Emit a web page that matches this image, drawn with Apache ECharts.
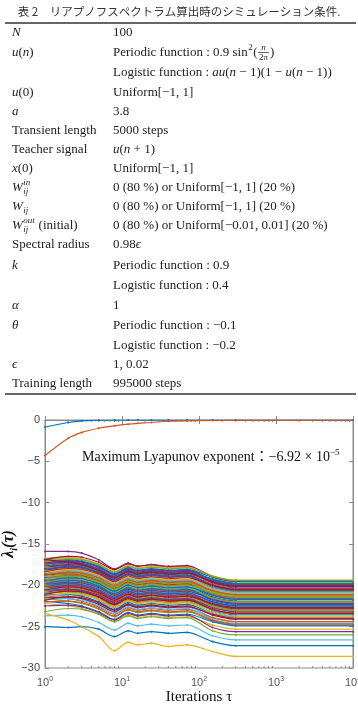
<!DOCTYPE html>
<html>
<head>
<meta charset="utf-8">
<title>リアプノフスペクトラム</title>
<script src="https://cdn.jsdelivr.net/npm/echarts@6/dist/echarts.min.js"></script>
<style>
  html, body { margin: 0; padding: 0; background: #fff; }
  #main { width: 358px; height: 708px; }
</style>
</head>
<body>
<div id="main"></div>
<script>
// little helpers for the math in the table (roman, italic, super/subscript, fraction)
function R(t) { return { t: t }; }
function I(t) { return { t: t, it: true }; }
function SUP(t, it) { return { up: t, it: it }; }
function SUB(t, it) { return { down: t, it: it }; }
function SUPSUB(u, d) { return { up: u, down: d, it: true }; }
function FRAC(n, d) { return { frac: [n, d] }; }

// ---- table: simulation conditions ----
var tableTitle = '表 2　リアプノフスペクトラム算出時のシミュレーション条件.';
var paramNames = [
  [I('N')],
  [I('u'), R('('), I('n'), R(')')],
  [],
  [I('u'), R('(0)')],
  [I('a')],
  [R('Transient length')],
  [R('Teacher signal')],
  [I('x'), R('(0)')],
  [I('W'), SUPSUB('in', 'ij')],
  [I('W'), SUB('ij', true)],
  [I('W'), SUPSUB('out', 'ij'), R(' (initial)')],
  [R('Spectral radius')],
  [I('k')],
  [],
  [I('α')],
  [I('θ')],
  [],
  [I('ϵ')],
  [R('Training length')]
];
var paramValues = [
  [R('100')],
  [R('Periodic function : 0.9 sin'), SUP('2', false), R('('), FRAC('n', '2π'), R(')')],
  [R('Logistic function : '), I('au'), R('('), I('n'), R(' − 1)(1 − '), I('u'), R('('), I('n'), R(' − 1))')],
  [R('Uniform[−1, 1]')],
  [R('3.8')],
  [R('5000 steps')],
  [I('u'), R('('), I('n'), R(' + 1)')],
  [R('Uniform[−1, 1]')],
  [R('0 (80 %) or Uniform[−1, 1] (20 %)')],
  [R('0 (80 %) or Uniform[−1, 1] (20 %)')],
  [R('0 (80 %) or Uniform[−0.01, 0.01] (20 %)')],
  [R('0.98'), I('ϵ')],
  [R('Periodic function : 0.9')],
  [R('Logistic function : 0.4')],
  [R('1')],
  [R('Periodic function : −0.1')],
  [R('Logistic function : −0.2')],
  [R('1, 0.02')],
  [R('995000 steps')]
];

// ---- chart: Lyapunov spectrum lambda_i(tau) ----
var tau = [1, 2, 3, 5, 8, 12, 16, 24, 40, 70, 150, 300, 10000];
var lambda1 = [-0.85, -0.3, -0.1, -0.03, 0, 0, 0, 0, 0, 0, 0, 0, 0];
var lambda2 = [-4.3, -2.2, -1.5, -1.0, -0.7, -0.5, -0.4, -0.3, -0.15, -0.1, -0.05, -0.02, 0];
var spectrum = [
  [-16.7,-16.6,-16.8,-17.5,-18.4,-17.6,-17.9,-17.7,-17.9,-17.8,-18.9,-19.4,-19.4],
  [-15.9,-15.9,-16.1,-16.9,-18.0,-17.3,-17.7,-17.5,-17.8,-17.7,-18.9,-19.5,-19.5],
  [-16.8,-17.1,-17.4,-18.1,-19.0,-18.2,-18.5,-18.3,-18.5,-18.4,-19.2,-19.7,-19.7],
  [-16.8,-16.7,-16.9,-17.6,-18.5,-17.7,-18.0,-17.8,-18.0,-17.9,-19.0,-19.5,-19.5],
  [-16.9,-16.5,-16.6,-17.2,-18.1,-17.4,-17.7,-17.5,-17.7,-17.6,-19.0,-19.5,-19.5],
  [-17.0,-16.9,-17.1,-17.8,-18.7,-17.9,-18.2,-18.0,-18.2,-18.1,-19.0,-19.5,-19.5],
  [-17.0,-17.3,-17.6,-18.3,-19.2,-18.4,-18.7,-18.5,-18.7,-18.6,-19.7,-20.2,-20.2],
  [-17.1,-16.7,-16.8,-17.4,-18.3,-17.6,-17.9,-17.7,-17.9,-17.8,-18.9,-19.4,-19.4],
  [-17.2,-17.1,-17.3,-18.0,-18.9,-18.1,-18.4,-18.2,-18.4,-18.3,-19.6,-20.1,-20.1],
  [-17.2,-16.8,-16.9,-17.5,-18.4,-17.7,-18.0,-17.8,-18.0,-17.9,-18.9,-19.4,-19.4],
  [-17.3,-17.6,-17.9,-18.6,-19.5,-18.7,-19.0,-18.8,-19.0,-18.9,-19.8,-20.3,-20.3],
  [-17.3,-17.2,-17.4,-18.1,-19.0,-18.2,-18.5,-18.3,-18.5,-18.4,-19.5,-20.0,-20.0],
  [-17.4,-17.0,-17.1,-17.7,-18.6,-17.9,-18.2,-18.0,-18.2,-18.1,-19.4,-19.9,-19.9],
  [-17.4,-17.3,-17.5,-18.2,-19.1,-18.3,-18.6,-18.4,-18.6,-18.5,-19.3,-19.8,-19.8],
  [-17.5,-17.8,-18.1,-18.8,-19.7,-18.9,-19.2,-19.0,-19.2,-19.1,-20.2,-20.7,-20.7],
  [-17.5,-17.1,-17.2,-17.8,-18.7,-18.0,-18.3,-18.1,-18.3,-18.2,-19.3,-19.8,-19.8],
  [-17.6,-17.5,-17.7,-18.4,-19.3,-18.5,-18.8,-18.6,-18.8,-18.7,-20.1,-20.6,-20.6],
  [-17.6,-17.9,-18.2,-18.9,-19.8,-19.0,-19.3,-19.1,-19.3,-19.2,-20.1,-20.6,-20.6],
  [-17.7,-17.6,-17.8,-18.5,-19.4,-18.6,-18.9,-18.7,-18.9,-18.8,-19.9,-20.4,-20.4],
  [-17.7,-17.3,-17.4,-18.0,-18.9,-18.2,-18.5,-18.3,-18.5,-18.4,-19.3,-19.8,-19.8],
  [-17.8,-17.7,-17.9,-18.6,-19.5,-18.7,-19.0,-18.8,-19.0,-18.9,-19.9,-20.4,-20.4],
  [-17.8,-18.1,-18.4,-19.1,-20.0,-19.2,-19.5,-19.3,-19.5,-19.4,-20.7,-21.2,-21.2],
  [-17.9,-17.5,-17.6,-18.2,-19.1,-18.4,-18.7,-18.5,-18.7,-18.6,-19.7,-20.2,-20.2],
  [-17.9,-17.8,-18.0,-18.7,-19.6,-18.8,-19.1,-18.9,-19.1,-19.0,-20.2,-20.7,-20.7],
  [-18.0,-17.9,-18.1,-18.8,-19.7,-18.9,-19.2,-19.0,-19.2,-19.1,-20.0,-20.5,-20.5],
  [-18.0,-18.3,-18.6,-19.3,-20.2,-19.4,-19.7,-19.5,-19.7,-19.6,-20.7,-21.2,-21.2],
  [-18.1,-17.7,-17.8,-18.4,-19.3,-18.6,-18.9,-18.7,-18.9,-18.8,-20.1,-20.6,-20.6],
  [-18.1,-18.0,-18.2,-18.9,-19.8,-19.0,-19.3,-19.1,-19.3,-19.2,-20.3,-20.8,-20.8],
  [-18.2,-18.5,-18.8,-19.5,-20.4,-19.6,-19.9,-19.7,-19.9,-19.8,-20.6,-21.1,-21.1],
  [-18.2,-17.8,-17.9,-18.5,-19.4,-18.7,-19.0,-18.8,-19.0,-18.9,-20.0,-20.5,-20.5],
  [-18.3,-18.2,-18.4,-19.1,-20.0,-19.2,-19.5,-19.3,-19.5,-19.4,-20.7,-21.2,-21.2],
  [-18.3,-18.4,-18.3,-19.0,-19.9,-19.1,-19.4,-19.2,-19.4,-19.3,-20.4,-20.9,-20.9],
  [-18.4,-18.0,-18.1,-18.7,-19.6,-18.9,-19.2,-19.0,-19.2,-19.1,-20.0,-20.5,-20.5],
  [-18.4,-18.7,-19.0,-19.7,-20.6,-19.8,-20.1,-19.9,-20.1,-20.0,-21.1,-21.6,-21.6],
  [-18.5,-18.4,-18.6,-19.3,-20.2,-19.4,-19.7,-19.5,-19.7,-19.6,-20.7,-21.2,-21.2],
  [-18.5,-18.1,-18.2,-18.8,-19.7,-19.0,-19.3,-19.1,-19.3,-19.2,-20.4,-20.9,-20.9],
  [-18.6,-18.9,-19.2,-19.9,-20.8,-20.0,-20.3,-20.1,-20.3,-20.2,-21.1,-21.6,-21.6],
  [-18.6,-18.5,-18.7,-19.4,-20.3,-19.5,-19.8,-19.6,-19.8,-19.7,-20.8,-21.3,-21.3],
  [-18.7,-18.3,-18.4,-19.0,-19.9,-19.2,-19.5,-19.3,-19.5,-19.4,-20.4,-20.9,-20.9],
  [-18.7,-18.6,-18.8,-19.5,-20.4,-19.6,-19.9,-19.7,-19.9,-19.8,-21.2,-21.7,-21.7],
  [-18.8,-19.1,-19.4,-20.1,-21.0,-20.2,-20.5,-20.3,-20.5,-20.4,-21.5,-22.0,-22.0],
  [-18.8,-18.4,-18.5,-19.1,-20.0,-19.3,-19.6,-19.4,-19.6,-19.5,-20.6,-21.1,-21.1],
  [-18.9,-18.8,-19.0,-19.7,-20.6,-19.8,-20.1,-19.9,-20.1,-20.0,-20.9,-21.4,-21.4],
  [-18.9,-19.2,-19.5,-20.2,-21.1,-20.3,-20.6,-20.4,-20.6,-20.5,-21.7,-22.2,-22.2],
  [-19.0,-18.6,-18.7,-19.3,-20.2,-19.5,-19.8,-19.6,-19.8,-19.7,-21.0,-21.5,-21.5],
  [-19.0,-18.9,-19.1,-19.8,-20.7,-19.9,-20.2,-20.0,-20.2,-20.1,-21.2,-21.7,-21.7],
  [-19.1,-19.4,-19.7,-20.4,-21.3,-20.5,-20.8,-20.6,-20.8,-20.7,-21.5,-22.0,-22.0],
  [-19.1,-19.0,-19.2,-19.9,-20.8,-20.0,-20.3,-20.1,-20.3,-20.2,-21.2,-21.7,-21.7],
  [-19.2,-18.8,-18.9,-19.5,-20.4,-19.7,-20.0,-19.8,-20.0,-19.9,-21.0,-21.5,-21.5],
  [-19.2,-19.1,-19.3,-20.0,-20.9,-20.1,-20.4,-20.2,-20.4,-20.3,-21.6,-22.1,-22.1],
  [-19.3,-19.6,-19.9,-20.6,-21.5,-20.7,-21.0,-20.8,-21.0,-20.9,-22.0,-22.5,-22.5],
  [-19.3,-18.9,-19.0,-19.6,-20.5,-19.8,-20.1,-19.9,-20.1,-20.0,-20.9,-21.4,-21.4],
  [-19.4,-19.3,-19.5,-20.2,-21.1,-20.3,-20.6,-20.4,-20.6,-20.5,-21.6,-22.1,-22.1],
  [-19.4,-19.7,-20.0,-20.7,-21.6,-20.8,-21.1,-20.9,-21.1,-21.0,-22.0,-22.5,-22.5],
  [-19.5,-19.1,-19.2,-19.8,-20.7,-20.0,-20.3,-20.1,-20.3,-20.2,-21.4,-21.9,-21.9],
  [-19.5,-19.4,-19.6,-20.3,-21.2,-20.4,-20.7,-20.5,-20.7,-20.6,-21.5,-22.0,-22.0],
  [-19.6,-19.5,-19.7,-20.4,-21.3,-20.5,-20.8,-20.6,-20.8,-20.7,-21.8,-22.3,-22.3],
  [-19.6,-19.9,-20.2,-20.9,-21.8,-21.0,-21.3,-21.1,-21.3,-21.2,-22.5,-23.0,-23.0],
  [-19.7,-19.3,-19.4,-20.0,-20.9,-20.2,-20.5,-20.3,-20.5,-20.4,-21.5,-22.0,-22.0],
  [-19.7,-19.6,-19.8,-20.5,-21.4,-20.6,-20.9,-20.7,-20.9,-20.8,-21.8,-22.3,-22.3],
  [-19.8,-20.1,-20.4,-21.1,-22.0,-21.2,-21.5,-21.3,-21.5,-21.4,-22.3,-22.8,-22.8],
  [-19.8,-19.4,-19.5,-20.1,-21.0,-20.3,-20.6,-20.4,-20.6,-20.5,-21.8,-22.3,-22.3],
  [-19.9,-19.8,-20.0,-20.7,-21.6,-20.8,-21.1,-20.9,-21.1,-21.0,-22.1,-22.6,-22.6],
  [-19.9,-20.2,-20.5,-21.2,-22.1,-21.3,-21.6,-21.4,-21.6,-21.5,-22.6,-23.1,-23.1],
  [-20.0,-19.6,-19.7,-20.3,-21.2,-20.5,-20.8,-20.6,-20.8,-20.7,-21.7,-22.2,-22.2],
  [-20.0,-19.9,-20.1,-20.8,-21.7,-20.9,-21.2,-21.0,-21.2,-21.1,-22.3,-22.8,-22.8],
  [-20.1,-20.0,-20.2,-20.9,-21.8,-21.0,-21.3,-21.1,-21.3,-21.2,-22.1,-22.6,-22.6],
  [-20.1,-20.4,-20.7,-21.4,-22.3,-21.5,-21.8,-21.6,-21.8,-21.7,-23.0,-23.5,-23.5],
  [-20.2,-19.8,-19.9,-20.5,-21.4,-20.7,-21.0,-20.8,-21.0,-20.9,-22.0,-22.5,-22.5],
  [-20.2,-20.1,-20.3,-21.0,-21.9,-21.1,-21.4,-21.2,-21.4,-21.3,-22.4,-22.9,-22.9],
  [-20.3,-20.6,-20.9,-21.6,-22.5,-21.7,-22.0,-21.8,-22.0,-21.9,-22.7,-23.2,-23.2],
  [-20.4,-20.0,-20.1,-20.7,-21.6,-20.9,-21.2,-21.0,-21.2,-21.1,-22.3,-22.8,-22.8],
  [-20.4,-20.3,-20.5,-21.2,-22.1,-21.3,-21.6,-21.4,-21.6,-21.5,-22.5,-23.0,-23.0],
  [-20.5,-20.8,-21.1,-21.8,-22.7,-21.9,-22.2,-22.0,-22.2,-22.1,-23.2,-23.7,-23.7],
  [-20.6,-20.2,-20.3,-20.9,-21.8,-21.1,-21.4,-21.2,-21.4,-21.3,-22.2,-22.7,-22.7],
  [-20.6,-20.5,-20.7,-21.4,-22.3,-21.5,-21.8,-21.6,-21.8,-21.7,-23.0,-23.5,-23.5],
  [-20.7,-20.6,-20.8,-21.5,-22.4,-21.6,-21.9,-21.7,-21.9,-21.8,-22.9,-23.4,-23.4],
  [-20.8,-21.1,-21.4,-22.1,-23.0,-22.2,-22.5,-22.3,-22.5,-22.4,-23.3,-23.8,-23.8],
  [-20.9,-20.5,-20.6,-21.2,-22.1,-21.4,-21.7,-21.5,-21.7,-21.6,-22.7,-23.2,-23.2],
  [-20.9,-20.8,-21.0,-21.7,-22.6,-21.8,-22.1,-21.9,-22.1,-22.0,-23.0,-23.5,-23.5],
  [-21.0,-21.3,-21.6,-22.3,-23.2,-22.4,-22.7,-22.5,-22.7,-22.6,-23.9,-24.4,-24.4],
  [-21.1,-20.7,-20.8,-21.4,-22.3,-21.6,-21.9,-21.7,-21.9,-21.8,-22.9,-23.4,-23.4],
  [-21.2,-21.1,-21.3,-22.0,-22.9,-22.1,-22.4,-22.2,-22.4,-22.3,-23.4,-23.9,-23.9],
  [-21.3,-21.6,-21.9,-22.6,-23.5,-22.7,-23.0,-22.8,-23.0,-22.9,-23.9,-24.4,-24.4],
  [-21.4,-21.0,-21.1,-21.7,-22.6,-21.9,-22.2,-22.0,-22.2,-22.1,-23.4,-23.9,-23.9],
  [-21.5,-21.4,-21.6,-22.3,-23.2,-22.4,-22.7,-22.5,-22.7,-22.6,-23.5,-24.0,-24.0],
  [-21.6,-21.9,-22.2,-22.9,-23.8,-23.0,-23.3,-23.1,-23.3,-23.2,-24.3,-24.8,-24.8],
  [-21.7,-21.6,-21.8,-22.5,-23.4,-22.6,-22.9,-22.7,-22.9,-22.8,-24.1,-24.6,-24.6],
  [-21.8,-21.4,-21.5,-22.1,-23.0,-22.3,-22.6,-22.4,-22.6,-22.5,-23.6,-24.1,-24.1],
  [-21.9,-22.2,-22.5,-23.2,-24.1,-23.3,-23.6,-23.4,-23.6,-23.5,-24.4,-24.9,-24.9],
  [-22.0,-21.9,-22.1,-22.8,-23.7,-22.9,-23.2,-23.0,-23.2,-23.1,-24.2,-24.7,-24.7],
  [-22.2,-22.5,-22.8,-23.5,-24.4,-23.6,-23.9,-23.7,-23.9,-23.8,-24.8,-25.3,-25.3],
  [-22.5,-22.4,-22.6,-23.3,-24.2,-23.4,-23.7,-23.5,-23.7,-23.6,-25.1,-25.6,-25.6],
  [-23.2,-22.8,-22.9,-23.5,-24.4,-23.7,-24.0,-23.8,-24.0,-23.9,-25.5,-26.0,-26.0],
  [-23.7,-23.6,-23.8,-24.5,-25.4,-24.6,-24.9,-24.7,-24.9,-24.8,-26.1,-26.6,-26.6],
  [-16.9,-17.2,-17.5,-18.2,-19.1,-18.3,-18.6,-18.4,-18.6,-18.5,-19.6,-20.1,-20.1],
  [-25.0,-25.1,-25.0,-25.3,-26.2,-25.5,-25.8,-25.6,-25.8,-25.7,-26.8,-27.3,-27.3],
  [-23.4,-24.2,-25.0,-26.2,-27.9,-26.9,-27.2,-27.0,-27.4,-27.2,-28.0,-28.6,-28.6]
];
var annotationText = 'Maximum Lyapunov exponent：−6.92 × 10';
var annotationPower = '−5';

// ---- styles ----
var SERIF = '"Liberation Serif", "DejaVu Serif", "Noto Sans CJK JP", serif';
var INK = '#222';
var AXIS = '#8a8a8a';
var matlabColors = ['#0072BD', '#D95319', '#EDB120', '#7E2F8E', '#77AC30', '#4DBEEE', '#A2142F'];
var col1X = 12, col2X = 113;
var rowY = [33, 53, 73, 93, 112, 131, 150, 169, 188, 207, 226, 245, 266, 286, 306, 326, 346, 365, 384];

var measureCtx = document.createElement('canvas').getContext('2d');
function fontOf(p) { return (p.it ? 'italic ' : '') + (p.small ? 9 : 13) + 'px ' + SERIF; }
function widthOf(p) { measureCtx.font = fontOf(p); return measureCtx.measureText(p.t).width; }
function textEl(x, y, p, align) {
  return {
    type: 'text', silent: true, x: x, y: y,
    style: {
      text: p.t, font: fontOf(p), fill: INK,
      align: align || 'left', textAlign: align || 'left',
      verticalAlign: 'middle', textVerticalAlign: 'middle'
    }
  };
}
function layoutRow(x, y, parts, out) {
  parts.forEach(function (p) {
    if (p.frac) {
      var num = { t: p.frac[0], it: true, small: true };
      var den = { t: p.frac[1], small: true };
      var w = Math.max(widthOf(num), widthOf(den)) + 2;
      out.push(textEl(x + w / 2 + 0.5, y - 5, num, 'center'));
      out.push(textEl(x + w / 2 + 0.5, y + 5, den, 'center'));
      out.push({ type: 'line', silent: true, shape: { x1: x + 0.5, y1: y - 0.5, x2: x + w + 0.5, y2: y - 0.5 },
        style: { stroke: INK, lineWidth: 0.7 } });
      x += w + 1.5;
    } else if (p.up !== undefined || p.down !== undefined) {
      var ws = 0;
      if (p.up) {
        var u = { t: p.up, it: p.it, small: true };
        out.push(textEl(x + 0.5, y - 5, u));
        ws = widthOf(u);
      }
      if (p.down) {
        var d = { t: p.down, it: p.it, small: true };
        out.push(textEl(x + 0.5, y + 4, d));
        ws = Math.max(ws, widthOf(d));
      }
      x += ws + 1;
    } else {
      out.push(textEl(x, y, p));
      x += widthOf(p);
    }
  });
}

var chart = echarts.init(document.getElementById('main'));

var allRows = [lambda1, lambda2].concat(spectrum);
var series = allRows.map(function (row, i) {
  var s = {
    type: 'line',
    data: tau.map(function (t, k) { return [t, row[k]]; }),
    symbol: 'circle',
    symbolSize: 2,
    showSymbol: true,
    smooth: 0.3,
    silent: true,
    lineStyle: { width: 1.2 },
    emphasis: { disabled: true }
  };
  if (i === allRows.length - 1) s.itemStyle = { color: '#EDB120' };
  return s;
});

var plainAxis = {
  axisLine: { lineStyle: { color: AXIS } },
  axisTick: { inside: true, length: 4, lineStyle: { color: AXIS } },
  splitLine: { show: false }
};

chart.setOption({
  animation: false,
  color: matlabColors,
  grid: {
    left: 45, right: 5, top: 420, bottom: 40,
    containLabel: false, outerBoundsMode: 'none',
    show: true, borderColor: AXIS, borderWidth: 1
  },
  xAxis: [
    echarts.util.merge({
      type: 'log', logBase: 10, min: 1, max: 10000,
      name: 'Iterations τ', nameLocation: 'middle', nameGap: 22,
      nameTextStyle: { fontFamily: SERIF, fontSize: 15, color: '#111' },
      axisLabel: {
        margin: 8,
        formatter: function (v) { return '{b|10}{s|' + Math.round(Math.log10(v)) + '}'; },
        rich: {
          b: { fontFamily: '"Liberation Sans", sans-serif', fontSize: 11, color: '#555', lineHeight: 14 },
          s: { fontFamily: '"Liberation Sans", sans-serif', fontSize: 7, color: '#555', verticalAlign: 'top', lineHeight: 8 }
        }
      }
    }, plainAxis),
    echarts.util.merge({ type: 'log', logBase: 10, min: 1, max: 10000, position: 'top', axisLabel: { show: false } }, plainAxis)
  ],
  yAxis: [
    echarts.util.merge({
      type: 'value', min: -30, max: 0, interval: 5,
      name: '{l|λ}{s|i}{l|(τ)}', nameLocation: 'middle', nameGap: 26, nameMoveOverlap: false,
      nameTextStyle: {
        rich: {
          l: { fontFamily: SERIF, fontSize: 16, fontStyle: 'italic', fontWeight: 'bold', color: '#111', lineHeight: 20 },
          s: { fontFamily: SERIF, fontSize: 10, fontStyle: 'italic', fontWeight: 'bold', color: '#111', verticalAlign: 'bottom', lineHeight: 10 }
        }
      },
      axisLabel: {
        margin: 5, fontFamily: '"Liberation Sans", sans-serif', fontSize: 11, color: '#444',
        formatter: function (v) { return String(v).replace('-', '−'); }
      }
    }, plainAxis),
    echarts.util.merge({ type: 'value', min: -30, max: 0, interval: 5, position: 'right', axisLabel: { show: false } }, plainAxis)
  ],
  series: series
});

// table, annotation and minor log ticks as graphic elements
var els = [];
els.push({ type: 'text', silent: true, x: 179, y: 12,
  style: { text: tableTitle, font: '11.5px "Noto Sans CJK JP", sans-serif', fill: '#333',
    align: 'center', textAlign: 'center', verticalAlign: 'middle', textVerticalAlign: 'middle' } });
[23, 394].forEach(function (y) {
  els.push({ type: 'line', silent: true, shape: { x1: 5, y1: y, x2: 356, y2: y }, style: { stroke: '#333', lineWidth: 1.4 } });
});
paramNames.forEach(function (parts, i) { layoutRow(col1X, rowY[i], parts, els); });
paramValues.forEach(function (parts, i) { layoutRow(col2X, rowY[i], parts, els); });

els.push({ type: 'text', silent: true, z: 100, x: 82, y: 457,
  style: {
    text: '{a|' + annotationText + '}{s|' + annotationPower + '}',
    verticalAlign: 'middle', textVerticalAlign: 'middle',
    rich: {
      a: { fontFamily: SERIF, fontSize: 14, fill: '#111', color: '#111', lineHeight: 17 },
      s: { fontFamily: SERIF, fontSize: 9, fill: '#111', color: '#111', verticalAlign: 'top', lineHeight: 9 }
    }
  } });

var yTop = chart.convertToPixel({ yAxisIndex: 0 }, 0);
var yBot = chart.convertToPixel({ yAxisIndex: 0 }, -30);
for (var d = 0; d < 4; d++) {
  for (var k = 2; k < 10; k++) {
    var px = chart.convertToPixel({ xAxisIndex: 0 }, k * Math.pow(10, d));
    els.push({ type: 'line', silent: true, shape: { x1: px, y1: yBot, x2: px, y2: yBot - 2 }, style: { stroke: AXIS, lineWidth: 1 } });
    els.push({ type: 'line', silent: true, shape: { x1: px, y1: yTop, x2: px, y2: yTop + 2 }, style: { stroke: AXIS, lineWidth: 1 } });
  }
}
chart.setOption({ graphic: { elements: els } });
</script>
</body>
</html>
